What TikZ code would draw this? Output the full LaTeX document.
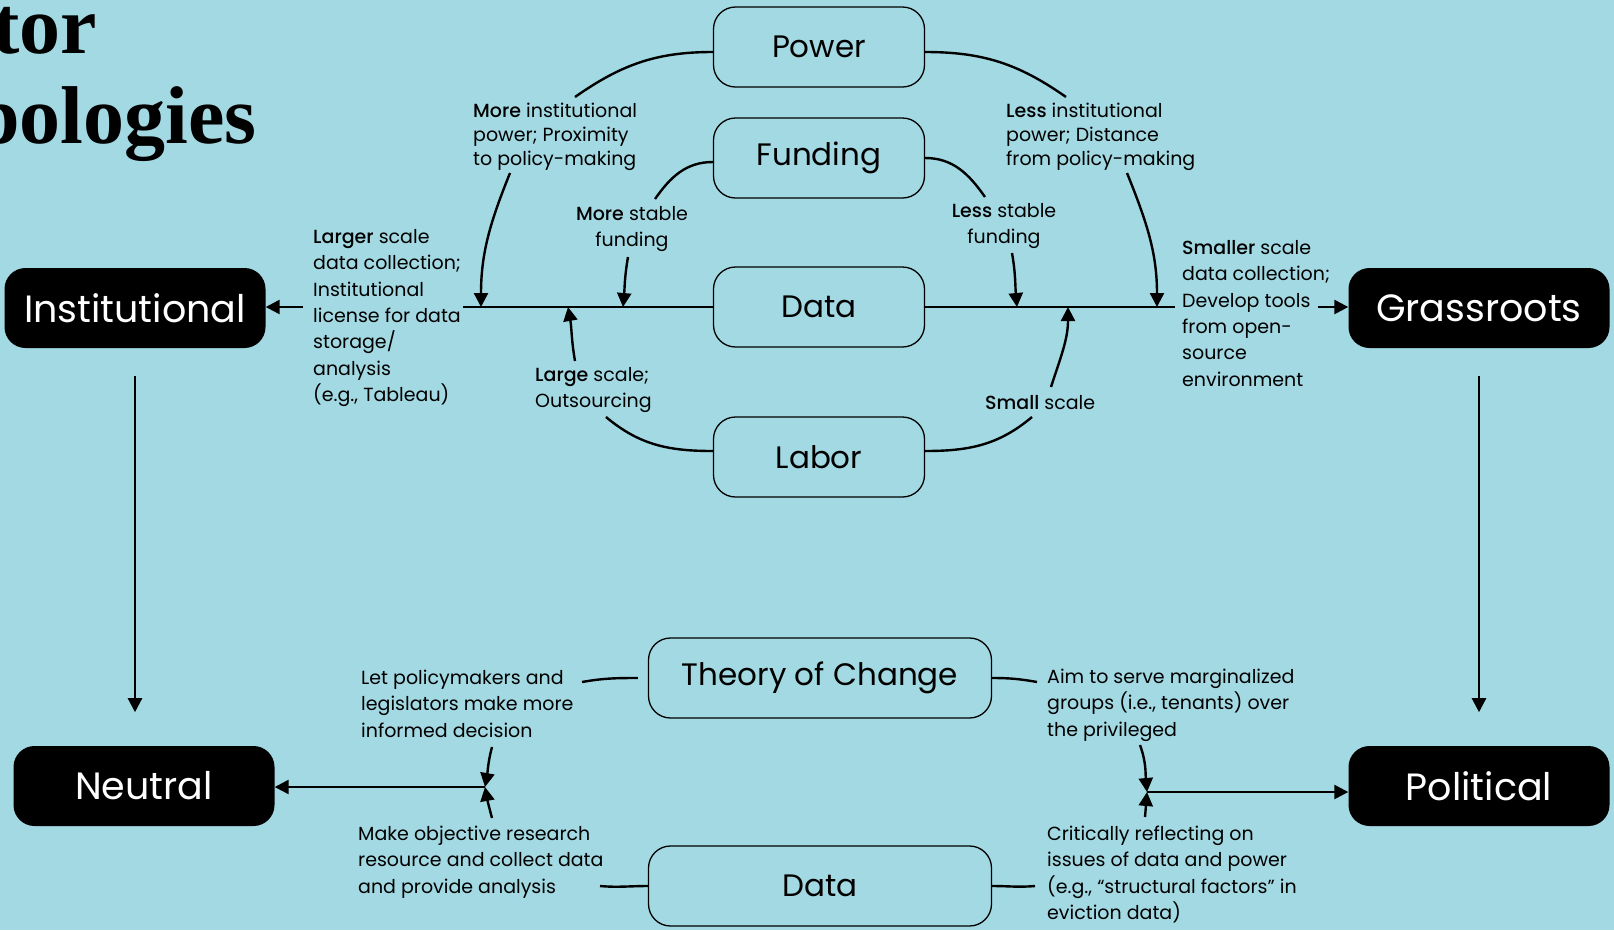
\documentclass[tikz,border=0pt]{standalone}
\usepackage{fontspec}
\setmainfont{Poppins}[BoldFont={Poppins Medium}]
\newfontfamily\headfont{Liberation Serif}
\usetikzlibrary{arrows.meta}
\definecolor{bgblue}{RGB}{162,217,226}
\newcommand\noteStrut{\rule{0pt}{17pt}}

\begin{document}
\begin{tikzpicture}[x=1pt,y=-1pt,
  conn/.style={line width=2.4pt, black},
  tip/.style={conn, -{Triangle[length=14pt,width=14pt]}},
  outlinebox/.style={draw=black, line width=1.3pt, rounded corners=22pt,
    minimum width=211pt, minimum height=80pt, inner sep=0pt,
    font=\fontsize{31}{36}\selectfont},
  solidbox/.style={fill=black, text=white, rounded corners=21pt,
    minimum width=261pt, minimum height=80pt, inner sep=0pt,
    font=\fontsize{38}{42}\selectfont},
  note/.style={inner sep=0pt, align=left, anchor=north west,
    font=\fontsize{19}{26.4}\selectfont},
  tightnote/.style={note, font=\fontsize{19}{24.2}\selectfont},
  centernote/.style={note, align=center, anchor=north},
  title/.style={inner sep=0pt, anchor=base east,
    font=\headfont\bfseries\fontsize{82}{82}\selectfont},
]
\useasboundingbox (0,0) rectangle (1614,930);
\fill[bgblue] (0,0) rectangle (1614,930);

% heading, cut by the page edge
\begin{scope}
  \clip (0,0) rectangle (1614,930);
  \node[title] (headtop) at (97,53) {tor};
  \node[title] (headbottom) at (257,143) {pologies};
\end{scope}

% ---------- upper half: institutional vs grassroots ----------
\node[outlinebox] (power)   at (819,47)  {Power};
\node[outlinebox] (funding) at (819,158) {Funding};
\node[outlinebox] (data)    at (819,307) {Data};
\node[outlinebox] (labor)   at (819,457) {Labor};

\node[solidbox] (institutional) at (135,308)  {Institutional};
\node[solidbox] (grassroots)    at (1479,308) {Grassroots};

% axis through the Data box
\coordinate (leftend)  at (463,307);
\coordinate (rightend) at (1175,307);
\draw[conn] (data.west) -- (leftend);
\draw[conn] (data.east) -- (rightend);

% short arrows into the two black boxes
\coordinate (toinst) at (303,307);
\coordinate (togras) at (1318,307);
\draw[tip] (toinst) -- (toinst -| institutional.east);
\draw[tip] (togras) -- (togras -| grassroots.west);

% branches leaving the factor boxes
\coordinate (pl) at (575,97);
\coordinate (pr) at (1066,97);
\coordinate (fl) at (655,199);
\coordinate (fr) at (985,197);
\coordinate (ll) at (606,417);
\coordinate (lr) at (1032,417);
\draw[conn] ([yshift=-5pt]power.west) to[out=180,in=35] (pl);
\draw[conn] ([yshift=-5pt]power.east) to[out=0,in=145] (pr);
\draw[conn] ([yshift=-4pt]funding.west) to[out=180,in=55] (fl);
\draw[conn] (funding.east) to[out=0,in=125] (fr);
\draw[conn] ([yshift=6pt]labor.west) to[out=180,in=-40] (ll);
\draw[conn] ([yshift=6pt]labor.east) to[out=0,in=-140] (lr);

% labels of the branches
\node[tightnote] (moreinst) at (473,100)
  {\noteStrut\textbf{More} institutional\\power; Proximity\\to policy-making};
\node[tightnote] (lessinst) at (1006,100)
  {\noteStrut\textbf{Less} institutional\\power; Distance\\from policy-making};
\node[centernote] (morefund) at (632,203)
  {\noteStrut\textbf{More} stable\\funding};
\node[centernote] (lessfund) at (1004,200)
  {\noteStrut\textbf{Less} stable\\funding};
\node[note] (largerscale) at (313,226)
  {\noteStrut\textbf{Larger} scale\\data collection;\\Institutional\\license for data\\storage/\\analysis\\(e.g., Tableau)};
\node[note] (smallerscale) at (1182,237)
  {\noteStrut\textbf{Smaller} scale\\data collection;\\Develop tools\\from open-\\source\\environment};
\node[note] (largelabor) at (535,364)
  {\noteStrut\textbf{Large} scale;\\Outsourcing};
\node[note] (smalllabor) at (985,392)
  {\noteStrut\textbf{Small} scale};

% arrows from the labels onto the axis
\coordinate (a1s) at (510,173);  \coordinate (a1t) at (481,307);
\coordinate (a2s) at (628,257);  \coordinate (a2t) at (623,307);
\coordinate (a3s) at (575,361);  \coordinate (a3t) at (568,307);
\coordinate (a4s) at (1012,253); \coordinate (a4t) at (1017,307);
\coordinate (a5s) at (1127,173); \coordinate (a5t) at (1157,307);
\coordinate (a6s) at (1051,387); \coordinate (a6t) at (1068,307);
\draw[tip] (a1s) to[out=-112,in=90] (a1t);
\draw[tip] (a2s) to[out=-100,in=85] (a2t);
\draw[tip] (a3s) to[out=100,in=-80] (a3t);
\draw[tip] (a4s) to[out=-80,in=95] (a4t);
\draw[tip] (a5s) to[out=-68,in=90] (a5t);
\draw[tip] (a6s) to[out=72,in=-90] (a6t);

% vertical arrows down to the lower pair
\coordinate (vlt) at ([yshift=-28pt]institutional.south);
\coordinate (vrt) at ([yshift=-28pt]grassroots.south);
\draw[tip] (vlt) -- ++(0,336);
\draw[tip] (vrt) -- ++(0,336);

% ---------- lower half: neutral vs political ----------
\node[outlinebox, minimum width=343pt] (theory)   at (820,678) {Theory of Change};
\node[outlinebox, minimum width=343pt] (evidence) at (820,886) {Data};

\node[solidbox] (neutral)   at (144,786)  {Neutral};
\node[solidbox] (political) at (1479,786) {Political};

\coordinate (tl) at (582,682);
\coordinate (tr) at (1037,682);
\coordinate (el) at (600,886);
\coordinate (er) at (1035,886);
\draw[conn] ([xshift=-10pt]theory.west) to[out=180,in=10] (tl);
\draw[conn] (theory.east) to[out=0,in=170] (tr);
\draw[conn] (evidence.west) to[out=180,in=-5] (el);
\draw[conn] (evidence.east) to[out=0,in=-175] (er);

\node[note] (informed) at (361,667)
  {\noteStrut Let policymakers and\\legislators make more\\informed decision};
\node[note] (objective) at (358,823)
  {\noteStrut Make objective research\\resource and collect data\\and provide analysis};
\node[note] (marginal) at (1047,666)
  {\noteStrut Aim to serve marginalized\\groups (i.e., tenants) over\\the privileged};
\node[note] (reflect) at (1047,823)
  {\noteStrut Critically reflecting on\\issues of data and power\\(e.g., “structural factors” in\\eviction data)};

\coordinate (jl) at (485,787);
\coordinate (jr) at (1147,792);
\coordinate (b1s) at (492,747);
\coordinate (b2s) at (492,818);
\coordinate (c1s) at (1140,745);
\coordinate (c2s) at (1145,817);
\draw[tip] (b1s) to[out=-105,in=80] (jl);
\draw[tip] (b2s) to[out=105,in=-80] (jl);
\draw[tip] (c1s) to[out=-70,in=95] (jr);
\draw[tip] (c2s) to[out=85,in=-95] (jr);
\draw[tip] (jl) -- (jl -| neutral.east);
\draw[tip] (jr) -- (jr -| political.west);
\end{tikzpicture}
\end{document}
